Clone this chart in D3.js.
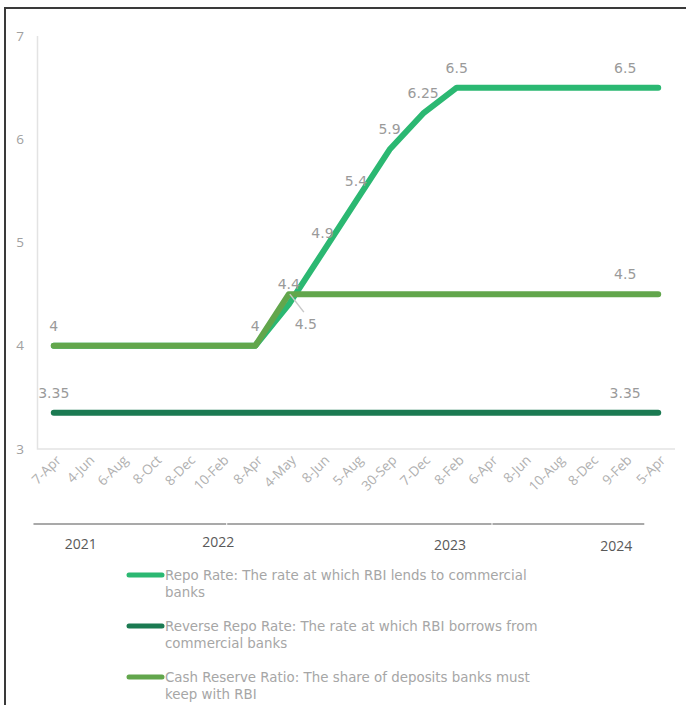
<!DOCTYPE html>
<html>
<head>
<meta charset="utf-8">
<script src="https://cdn.jsdelivr.net/npm/d3@7"></script>
<style>
  body { margin: 0; background: #fff; }
  svg { display: block; }
</style>
</head>
<body>
<div id="chart"></div>
<script>
// policy rate dates (category axis)
let dates = ["7-Apr", "4-Jun", "6-Aug", "8-Oct", "8-Dec", "10-Feb", "8-Apr", "4-May", "8-Jun", "5-Aug",
  "30-Sep", "7-Dec", "8-Feb", "6-Apr", "8-Jun", "10-Aug", "8-Dec", "9-Feb", "5-Apr"];
let repoRate = [4, 4, 4, 4, 4, 4, 4, 4.4, 4.9, 5.4, 5.9, 6.25, 6.5, 6.5, 6.5, 6.5, 6.5, 6.5, 6.5];
let reverseRepo = [3.35, 3.35, 3.35, 3.35, 3.35, 3.35, 3.35, 3.35, 3.35, 3.35, 3.35, 3.35, 3.35, 3.35, 3.35, 3.35, 3.35, 3.35, 3.35];
let cashReserve = [4, 4, 4, 4, 4, 4, 4, 4.5, 4.5, 4.5, 4.5, 4.5, 4.5, 4.5, 4.5, 4.5, 4.5, 4.5, 4.5];
let yTicks = [3, 4, 5, 6, 7];
let years = ["2021", "2022", "2023", "2024"];
let yearAt = [0.8, 4.9, 11.8, 16.75]; // centre of each year label, in category steps
let yearBreaks = [-0.62, 5.15, 13.05, 17.6];

let series = [
  { name: "Repo Rate: The rate at which RBI lends to commercial|banks", vals: repoRate, color: "#2bb872",
    labels: [0, 6, 7, 8, 9, 10, 11, 12, 18] },
  { name: "Reverse Repo Rate: The rate at which RBI borrows from|commercial banks", vals: reverseRepo, color: "#1b7a52",
    labels: [0, 18] },
  { name: "Cash Reserve Ratio: The share of deposits banks must|keep with RBI", vals: cashReserve, color: "#62a64c",
    labels: [7, 18] },
];

let draw = () => {
  var width = 686, height = 705;
  var svg = d3.select("#chart").append("svg").attr("width", width).attr("height", height);

  // frame
  svg.append("path")
    .attr("d", "M5 705 L5 8 L686 8")
    .attr("fill", "none")
    .attr("stroke", "#3a3a3a")
    .attr("stroke-width", 2);

  var Xaxis = d3.scalePoint().domain(d3.range(dates.length)).range([37, 675]).padding(0.5),
    step = Xaxis.step(),
    xAt = (i) => Xaxis(0) + i * step,
    Yaxis = d3.scaleLinear().domain([3, 7]).range([449, 36]);

  // axes lines
  svg.append("path")
    .attr("d", `M37.5 ${Yaxis(7)} L37.5 ${Yaxis(3)} L675 ${Yaxis(3)}`)
    .attr("fill", "none")
    .attr("stroke", "#e3e3e3")
    .attr("stroke-width", 1.5);

  svg.selectAll(".ytick")
    .data(yTicks)
    .enter()
    .append("text")
    .attr("x", 20)
    .attr("y", (d) => Yaxis(d))
    .attr("dy", "0.35em")
    .attr("text-anchor", "middle")
    .attr("fill", "#a0a0a0")
    .style("font", "13.5px 'Open Sans', sans-serif")
    .text((d) => d);

  svg.selectAll(".xtick")
    .data(dates)
    .enter()
    .append("text")
    .attr("transform", (d, i) => `translate(${Xaxis(i) + 8}, 461) rotate(-45)`)
    .attr("text-anchor", "end")
    .attr("fill", "#b0b0b0")
    .style("font", "13.5px 'Open Sans', sans-serif")
    .text((d) => d);

  // year bracket
  for (var k = 0; k < yearBreaks.length - 1; k++) {
    svg.append("line")
      .attr("x1", xAt(yearBreaks[k]) + 0.5)
      .attr("x2", xAt(yearBreaks[k + 1]) - 0.5)
      .attr("y1", 524)
      .attr("y2", 524)
      .attr("stroke", "#8c8c8c")
      .attr("stroke-width", 1.5);
  }
  svg.selectAll(".year")
    .data(years)
    .enter()
    .append("text")
    .attr("x", (d, i) => xAt(yearAt[i]))
    .attr("y", (d, i) => [544, 542, 545, 546][i])
    .attr("dy", "0.35em")
    .attr("text-anchor", "middle")
    .attr("fill", "#595959")
    .style("font", "14px 'Open Sans', sans-serif")
    .text((d) => d);

  // lines (reverse repo, repo, then CRR on top)
  var Line = d3.line().x((d, i) => Xaxis(i)).y((d) => Yaxis(d));
  [1, 0, 2].forEach((s) => {
    svg.append("path")
      .attr("d", Line(series[s].vals))
      .attr("fill", "none")
      .attr("stroke", series[s].color)
      .attr("stroke-width", 6)
      .attr("stroke-linejoin", "round")
      .attr("stroke-linecap", "round");
  });

  // data labels
  series.forEach((s, si) => {
    s.labels.forEach((i) => {
      var cx = Xaxis(i), cy = Yaxis(s.vals[i]);
      var lx = cx, ly = cy - 20;
      if (i === dates.length - 1) lx = cx - 33;
      if (si === 2 && i === 7) {
        lx = cx + 17;
        ly = cy + 30;
        svg.append("line")
          .attr("x1", cx + 1).attr("y1", cy)
          .attr("x2", cx + 15).attr("y2", cy + 18)
          .attr("stroke", "#c8c8c8")
          .attr("stroke-width", 1.5);
      }
      svg.append("text")
        .attr("x", lx)
        .attr("y", ly)
        .attr("dy", "0.35em")
        .attr("text-anchor", "middle")
        .attr("fill", "#9a9a9a")
        .style("font", "14px 'DejaVu Sans', sans-serif")
        .text(s.vals[i]);
    });
  });

  // legend
  var legend = svg.selectAll(".legend")
    .data(series)
    .enter()
    .append("g")
    .attr("transform", (d, i) => `translate(0, ${575 + i * 51})`);
  legend.append("line")
    .attr("x1", 129).attr("x2", 162)
    .attr("stroke", (d) => d.color)
    .attr("stroke-width", 5)
    .attr("stroke-linecap", "round");
  var lt = legend.append("text")
    .attr("fill", "#a6a6a6")
    .style("font", "13.4px 'DejaVu Sans', sans-serif");
  lt.each(function (d) {
    d.name.split("|").forEach((t, j) => {
      d3.select(this).append("tspan")
        .attr("x", 165)
        .attr("y", j * 17)
        .attr("dy", "0.35em")
        .text(t);
    });
  });
};

draw();
</script>
</body>
</html>
